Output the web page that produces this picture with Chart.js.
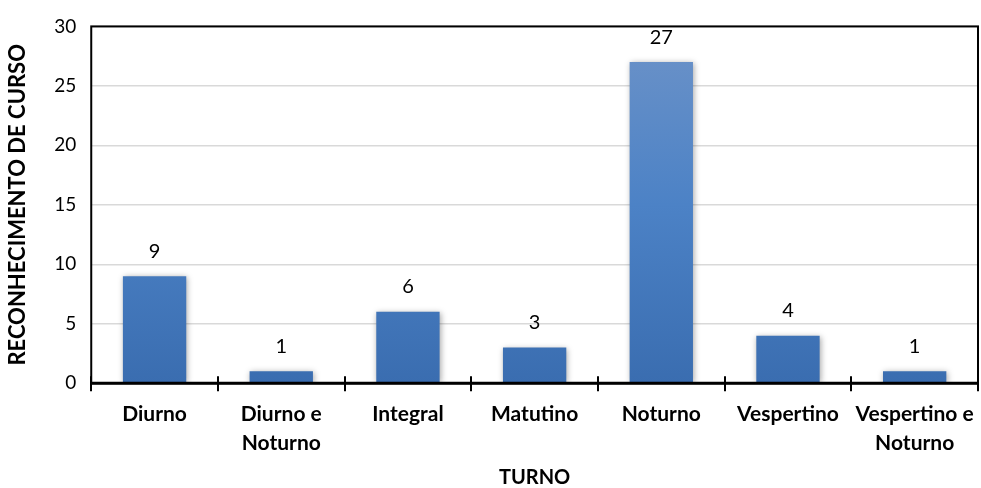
<!doctype html>
<html lang="pt">
  <head>
    <meta charset="utf-8">
    <title>Reconhecimento de curso por turno</title>
    <style>
      html, body { margin: 0; padding: 0; background: #fff; }
      #wrap { width: 981px; height: 488px; }
    </style>
  </head>
  <body>
    <div id="wrap"><canvas id="myChart"></canvas></div>

    <script src="https://cdn.jsdelivr.net/npm/chart.js"></script>
    <script>
        // dados
        var turnos = [
            'Diurno',
            ['Diurno e', 'Noturno'],
            'Integral',
            'Matutino',
            'Noturno',
            'Vespertino',
            ['Vespertino e', 'Noturno']
        ];
        var reconhecimento = [9, 1, 6, 3, 27, 4, 1];
        var yTicks = [0, 5, 10, 15, 20, 25, 30];

        var fonte = 'Lato, "Liberation Sans", sans-serif';

        // rótulos de valor, moldura e marcas do eixo x
        var extras = {
            id: 'extras',
            beforeDatasetsDraw: function(chart) {
                var ctx = chart.ctx;
                ctx.save();
                ctx.shadowColor = 'rgba(0,0,0,0.35)';
                ctx.shadowBlur = 6;
                ctx.shadowOffsetX = 1;
                ctx.shadowOffsetY = 1;
            },
            afterDatasetsDraw: function(chart) {
                var ctx = chart.ctx;
                ctx.restore();
                var meta = chart.getDatasetMeta(0);
                ctx.save();
                ctx.font = '20px ' + fonte;
                ctx.fillStyle = '#000';
                ctx.textAlign = 'center';
                ctx.textBaseline = 'bottom';
                meta.data.forEach(function(bar, i) {
                    ctx.fillText(reconhecimento[i], bar.x, bar.y - 15);
                });
                ctx.restore();
            },
            afterDraw: function(chart) {
                var ctx = chart.ctx;
                var a = chart.chartArea;
                ctx.save();
                ctx.strokeStyle = '#000';
                ctx.lineWidth = 2;
                ctx.strokeRect(a.left, a.top, a.right - a.left, a.bottom - a.top);
                ctx.lineWidth = 3;
                ctx.beginPath();
                ctx.moveTo(a.left, a.bottom);
                ctx.lineTo(a.right, a.bottom);
                ctx.stroke();
                ctx.lineWidth = 2;
                var w = (a.right - a.left) / turnos.length;
                for (var i = 0; i <= turnos.length; i++) {
                    var px = Math.round(a.left + i * w);
                    ctx.beginPath();
                    ctx.moveTo(px, a.bottom - 7);
                    ctx.lineTo(px, a.bottom + 8);
                    ctx.stroke();
                }
                ctx.restore();
            }
        };

        const ctx = document.getElementById('myChart');
        new Chart(ctx, {
            type: 'bar',
            data: {
                labels: turnos,
                datasets: [{
                    label: 'Reconhecimento de curso',
                    data: reconhecimento,
                    backgroundColor: function(c) {
                        var area = c.chart.chartArea;
                        if (!area) return '#4a7ebf';
                        var g = c.chart.ctx.createLinearGradient(0, area.top, 0, area.bottom);
                        g.addColorStop(0, '#6d93c8');
                        g.addColorStop(0.5, '#4c82c6');
                        g.addColorStop(1, '#3a6db0');
                        return g;
                    },
                    borderWidth: 0,
                    categoryPercentage: 1,
                    barPercentage: 0.5
                }]
            },
            options: {
                responsive: true,
                maintainAspectRatio: false,
                animation: false,
                layout: { padding: { top: 9, right: 3, left: 6, bottom: 0 } },
                plugins: {
                    legend: { display: false },
                    tooltip: { enabled: false }
                },
                scales: {
                    x: {
                        afterFit: function(scale) {
                            scale.paddingLeft = 0;
                            scale.paddingRight = 0;
                        },
                        grid: { display: false },
                        border: { display: false },
                        ticks: {
                            color: '#000',
                            font: { family: fonte, size: 21, weight: 'bold', lineHeight: 1.4 },
                            padding: 8,
                            maxRotation: 0,
                            autoSkip: false
                        },
                        title: {
                            display: true,
                            text: 'TURNO',
                            color: '#000',
                            font: { family: fonte, size: 20, weight: 'bold', lineHeight: 1 },
                            padding: { top: 2, bottom: 0 }
                        }
                    },
                    y: {
                        min: 0,
                        max: 30,
                        afterBuildTicks: function(axis) {
                            axis.ticks = yTicks.map(function(v) { return { value: v }; });
                        },
                        grid: { color: '#d9d9d9', lineWidth: 1.5, drawTicks: false },
                        border: { display: false },
                        ticks: {
                            color: '#000',
                            font: { family: fonte, size: 19 },
                            padding: 15
                        },
                        title: {
                            display: true,
                            text: 'RECONHECIMENTO DE CURSO',
                            color: '#000',
                            font: { family: fonte, size: 22, weight: 'bold', lineHeight: 1.1 },
                            padding: { top: 0, bottom: 9 }
                        }
                    }
                }
            },
            plugins: [extras]
        });
    </script>
  </body>
</html>
